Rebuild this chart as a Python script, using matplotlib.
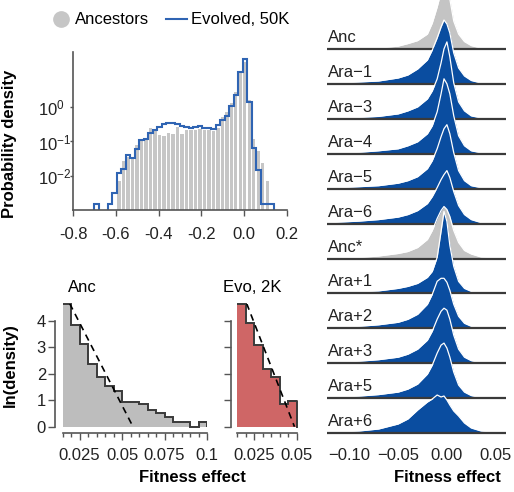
import numpy as np
import matplotlib.pyplot as plt
from matplotlib.lines import Line2D

plt.rcParams['font.family'] = ['Liberation Sans', 'DejaVu Sans']
plt.rcParams['mathtext.fontset'] = 'custom'
plt.rcParams['mathtext.rm'] = 'Liberation Sans'
plt.rcParams['mathtext.it'] = 'Liberation Sans:italic'
plt.rcParams['mathtext.bf'] = 'Liberation Sans:bold'
plt.rcParams['font.size'] = 12

# colours
dark = '#3a3a3a'
spine_col = '#555555'
hist_gray = '#c6c6c6'
step_blue = '#2f64b3'
ridge_blue = '#0a4da0'
ridge_gray = '#c4c4c4'
anc_fill = '#bdbdbd'
evo_fill = '#cf6666'

# ---- top left: DFE, ancestors vs evolved 50K (log density) ----
hist_lo, hist_hi, hist_n = -0.70, 0.14, 40
anc_density = [0, 0, 0, 0, 0, 0.0069, 0.027, 0.035, 0.032, 0.078,
               0.11, 0.12, 0.24, 0.20, 0.15, 0.14, 0.18, 0.17, 0.27, 0.17,
               0.21, 0.21, 0.21, 0.23, 0.21, 0.21, 0.20, 0.24, 0.52, 0.72,
               1.29, 2.8, 10.7, 21.0, 1.6, 0.115, 0.052, 0.023, 0.0069, 0]
evo50_density = [0.0015, 0, 0, 0.0015, 0.0031, 0.012, 0.016, 0.040, 0.034, 0.059,
                 0.11, 0.12, 0.18, 0.22, 0.27, 0.32, 0.35, 0.35, 0.32, 0.28,
                 0.26, 0.25, 0.26, 0.28, 0.25, 0.24, 0.23, 0.30, 0.42, 0.56,
                 1.07, 2.3, 10.7, 26.0, 1.4, 0.063, 0.015, 0.0015, 0.0015, 0.0015]
top_xticks = [-0.8, -0.6, -0.4, -0.2, 0.0, 0.2]
top_yticks = [1, 0.1, 0.01]
top_ylabels = ['$10^{0}$', '$10^{-1}$', '$10^{-2}$']

# ---- bottom left: tail of beneficial effects, ln(density) ----
tail_bin = 0.005
anc_tail_start = 0.015
anc_tail = [4.65, 3.82, 3.11, 2.38, 1.87, 1.53, 1.36, 0.92, 0.92, 0.84,
            0.63, 0.50, 0.38, 0.16, 0.16, 0.0, 0.19]
anc_fit_x = [0.0191, 0.0564]
anc_fit_y = [4.65, 0.0]
evo_tail_start = 0.015
evo_tail = [4.65, 3.92, 3.08, 2.18, 1.86, 0.84, 0.98]
evo_fit_x = [0.0205, 0.0486]
evo_fit_y = [4.65, 0.0]

# ---- right: ridgeline of DFEs per population ----
ridge_names = ['Anc', 'Ara\u22121', 'Ara\u22123', 'Ara\u22124', 'Ara\u22125', 'Ara\u22126',
               'Anc*', 'Ara+1', 'Ara+2', 'Ara+3', 'Ara+5', 'Ara+6']
ridge_x = [-0.125, -0.11, -0.09, -0.07, -0.05, -0.04, -0.03, -0.02, -0.015, -0.01,
           -0.006, -0.003, 0.0, 0.003, 0.007, 0.012, 0.018, 0.025, 0.035, 0.06]
ridge_density = [
    [0, 0, 0.3, 1, 3, 5.5, 8.5, 15, 26, 42, 57, 64, 62, 50, 28, 15, 7.5, 3.5, 1, 0],
    [0.5, 1, 2, 3, 6, 9, 15, 24, 34, 46, 57, 64, 60, 51, 31, 16, 8, 3.5, 1, 0],
    [0.5, 1, 1.5, 2.5, 5, 8, 12, 20, 28, 40, 56, 70, 77, 62, 36, 17, 8, 3, 1, 0],
    [0.5, 1, 1.5, 3, 5, 8, 12, 20, 28, 42, 60, 75, 70, 60, 38, 18, 8, 3, 1, 0],
    [0.5, 1, 2, 3, 5.5, 8, 12, 20, 28, 40, 52, 60, 64, 55, 36, 18, 8, 3, 1, 0],
    [0.5, 1.5, 2.5, 4, 6.5, 9, 13, 20, 27, 36, 44, 49, 53, 46, 32, 18, 9, 4, 1, 0],
    [0, 0.3, 1, 2.5, 5, 7, 11, 19, 28, 40, 48, 52, 49, 42, 28, 16, 8, 4.5, 1.5, 0],
    [0.5, 1, 1.5, 2.5, 5, 7, 10, 16, 22, 36, 62, 82, 72, 48, 27, 12, 5, 2, 0.5, 0],
    [0.5, 1, 2, 3.5, 6, 9, 14, 24, 34, 47, 50, 50, 46, 38, 24, 12, 5, 2, 0.5, 0],
    [0.5, 1, 2, 3.5, 6, 9, 14, 23, 32, 44, 52, 55, 53, 44, 28, 14, 6, 2.5, 0.5, 0],
    [0.5, 1, 2, 3.5, 6, 9, 14, 24, 33, 45, 53, 55, 50, 41, 26, 13, 6, 2.5, 0.5, 0],
    [0.5, 1, 2, 4, 9, 14, 23, 31, 34, 38, 36, 37, 33, 28, 22, 17, 10, 5, 2, 0],
]
ridge_xticks = [-0.10, -0.05, 0.00, 0.05]

W, H = 514, 492
fig = plt.figure(figsize=(W / 100, H / 100), dpi=100)


def box(x0, y0, x1, y1):
    # pixel box (from top-left) -> figure fraction
    return [x0 / W, 1 - y1 / H, (x1 - x0) / W, (y1 - y0) / H]


def style(ax):
    for s in ['top', 'right']:
        ax.spines[s].set_visible(False)
    for s in ['left', 'bottom']:
        ax.spines[s].set_color(spine_col)
        ax.spines[s].set_linewidth(1.2)
    ax.tick_params(colors=spine_col, labelcolor='#222222', width=1.0)


# ---------------- top left ----------------
ax1 = fig.add_axes(box(73, 52, 287, 210))
style(ax1)
edges = np.linspace(hist_lo, hist_hi, hist_n + 1)
bw = edges[1] - edges[0]
ax1.bar(edges[:-1] + bw * 0.12, anc_density, width=bw * 0.72, align='edge',
        color=hist_gray, lw=0, zorder=1)
ax1.stairs(evo50_density, edges, baseline=1e-3, color=step_blue, lw=1.5, zorder=2)
ax1.set_yscale('log')
ax1.set_ylim(1e-3, 41)
ax1.set_xlim(-0.8, 0.2)
ax1.set_xticks(top_xticks)
ax1.set_xticklabels([f'{v:.1f}' for v in top_xticks])
ax1.set_yticks(top_yticks)
ax1.set_yticklabels(top_ylabels)
ax1.minorticks_off()
ax1.tick_params(axis='x', length=4, pad=8)
ax1.tick_params(axis='y', length=2, pad=23)
for lab in ax1.get_yticklabels():
    lab.set_horizontalalignment('left')
ax1.set_ylabel('Probability density', fontweight='bold', labelpad=2)
ax1.yaxis.set_label_coords(-0.26, 0.42)

handles = [Line2D([], [], marker='o', ls='none', color=hist_gray, markersize=11),
           Line2D([], [], color=step_blue, lw=1.5)]
fig.legend(handles, ['Ancestors', 'Evolved, 50K'], loc='center left',
           bbox_to_anchor=(50 / W, 1 - 20 / H), ncol=2, frameon=False,
           handlelength=1.3, handletextpad=0.2, columnspacing=1.0,
           borderaxespad=0, borderpad=0, fontsize=12)

# ---------------- bottom left: Anc ----------------
ax2 = fig.add_axes(box(62.7, 303.5, 207, 426.7))
style(ax2)
anc_edges = anc_tail_start + tail_bin * np.arange(len(anc_tail) + 1)
ax2.stairs(anc_tail, anc_edges, fill=True, color=anc_fill, lw=0)
ax2.stairs(anc_tail, anc_edges, baseline=None, color=dark, lw=1.4, clip_on=False)
ax2.plot([anc_edges[-2], anc_edges[-1], anc_edges[-1]],
         [anc_tail[-1], anc_tail[-1], 0], color=dark, lw=1.4)
ax2.plot(anc_fit_x, anc_fit_y, color='black', ls=(0, (4, 3)), lw=1.2)
ax2.set_xlim(0.015, 0.1)
ax2.set_ylim(0, 4.65)
ax2.spines['left'].set_position(('outward', 5.5))
ax2.spines['left'].set_bounds(0, 4)
ax2.spines['bottom'].set_position(('outward', 4.3))
ax2.spines['bottom'].set_bounds(0.015, 0.1)
ax2.set_yticks([0, 1, 2, 3, 4])
ax2.set_xticks([0.025, 0.05, 0.075, 0.1])
ax2.set_xticklabels(['0.025', '0.05', '0.075', '0.1'])
ax2.set_xticks(np.arange(0.015, 0.1001, 0.005), minor=True)
ax2.tick_params(axis='y', length=5, pad=1.5)
ax2.tick_params(axis='x', which='major', length=5, pad=6)
ax2.tick_params(axis='x', which='minor', length=3, colors=spine_col, width=1.0)
ax2.set_ylabel('ln(density)', fontweight='bold', labelpad=4)
ax2.yaxis.set_label_coords(-0.31, 0.5)
ax2.text(0.035, 1.065, 'Anc', transform=ax2.transAxes, ha='left', va='bottom')

# ---------------- bottom left: Evo, 2K ----------------
ax3 = fig.add_axes(box(237.3, 303.5, 297.7, 426.7))
style(ax3)
evo_edges = evo_tail_start + tail_bin * np.arange(len(evo_tail) + 1)
ax3.stairs(evo_tail, evo_edges, fill=True, color=evo_fill, lw=0)
ax3.stairs(evo_tail, evo_edges, baseline=None, color=dark, lw=1.4, clip_on=False)
ax3.plot([evo_edges[-2], evo_edges[-1], evo_edges[-1]],
         [evo_tail[-1], evo_tail[-1], 0], color=dark, lw=1.4, clip_on=False)
ax3.plot(evo_fit_x, evo_fit_y, color='black', ls=(0, (4, 3)), lw=1.2)
ax3.set_xlim(0.015, 0.0505)
ax3.set_ylim(0, 4.65)
ax3.spines['left'].set_position(('outward', 4.5))
ax3.spines['left'].set_bounds(0, 4)
ax3.spines['bottom'].set_position(('outward', 4.3))
ax3.spines['bottom'].set_bounds(0.015, 0.05)
ax3.set_yticks([0, 1, 2, 3, 4])
ax3.set_yticklabels([])
ax3.set_xticks([0.025, 0.05])
ax3.set_xticklabels(['0.025', '0.05'])
ax3.set_xticks(np.arange(0.015, 0.0501, 0.005), minor=True)
ax3.tick_params(axis='y', length=5)
ax3.tick_params(axis='x', which='major', length=5, pad=6)
ax3.tick_params(axis='x', which='minor', length=3, colors=spine_col, width=1.0)
ax3.text(-0.23, 1.065, 'Evo, 2K', transform=ax3.transAxes, ha='left', va='bottom')

fig.text(192 / W, 1 - 478 / H, 'Fitness effect', fontweight='bold',
         ha='center', va='center')

# ---------------- right: ridgeline ----------------
axr = fig.add_axes(box(327, 0, 506, 435))
n = len(ridge_names)
row_gap = 34.9
axr.set_xlim(-0.123, 0.0606)
axr.set_ylim(-2, 433)
for i, (name, dens) in enumerate(zip(ridge_names, ridge_density)):
    base = (n - 1 - i) * row_gap
    top = base + np.array(dens)
    col = ridge_gray if name.startswith('Anc') else ridge_blue
    z = 1 + i
    axr.fill_between(ridge_x, base, top, color=col, lw=0, zorder=z)
    axr.plot(ridge_x, top, color='white', lw=0.9, zorder=z)
    axr.axhline(base, color=dark, lw=1.6, zorder=z)
    axr.text(-0.1215, base + 7, name, ha='left', va='baseline',
             fontsize=12, color='#222222', zorder=50)
for s in axr.spines.values():
    s.set_visible(False)
axr.set_yticks([])
axr.set_xticks(ridge_xticks)
axr.set_xticklabels([f'{v:.2f}'.replace('-', '\u2212') for v in ridge_xticks])
axr.tick_params(axis='x', length=0, pad=9, labelcolor='#222222')
fig.text(447 / W, 1 - 478 / H, 'Fitness effect', fontweight='bold',
         ha='center', va='center')

fig.savefig('out.png', dpi=100)
